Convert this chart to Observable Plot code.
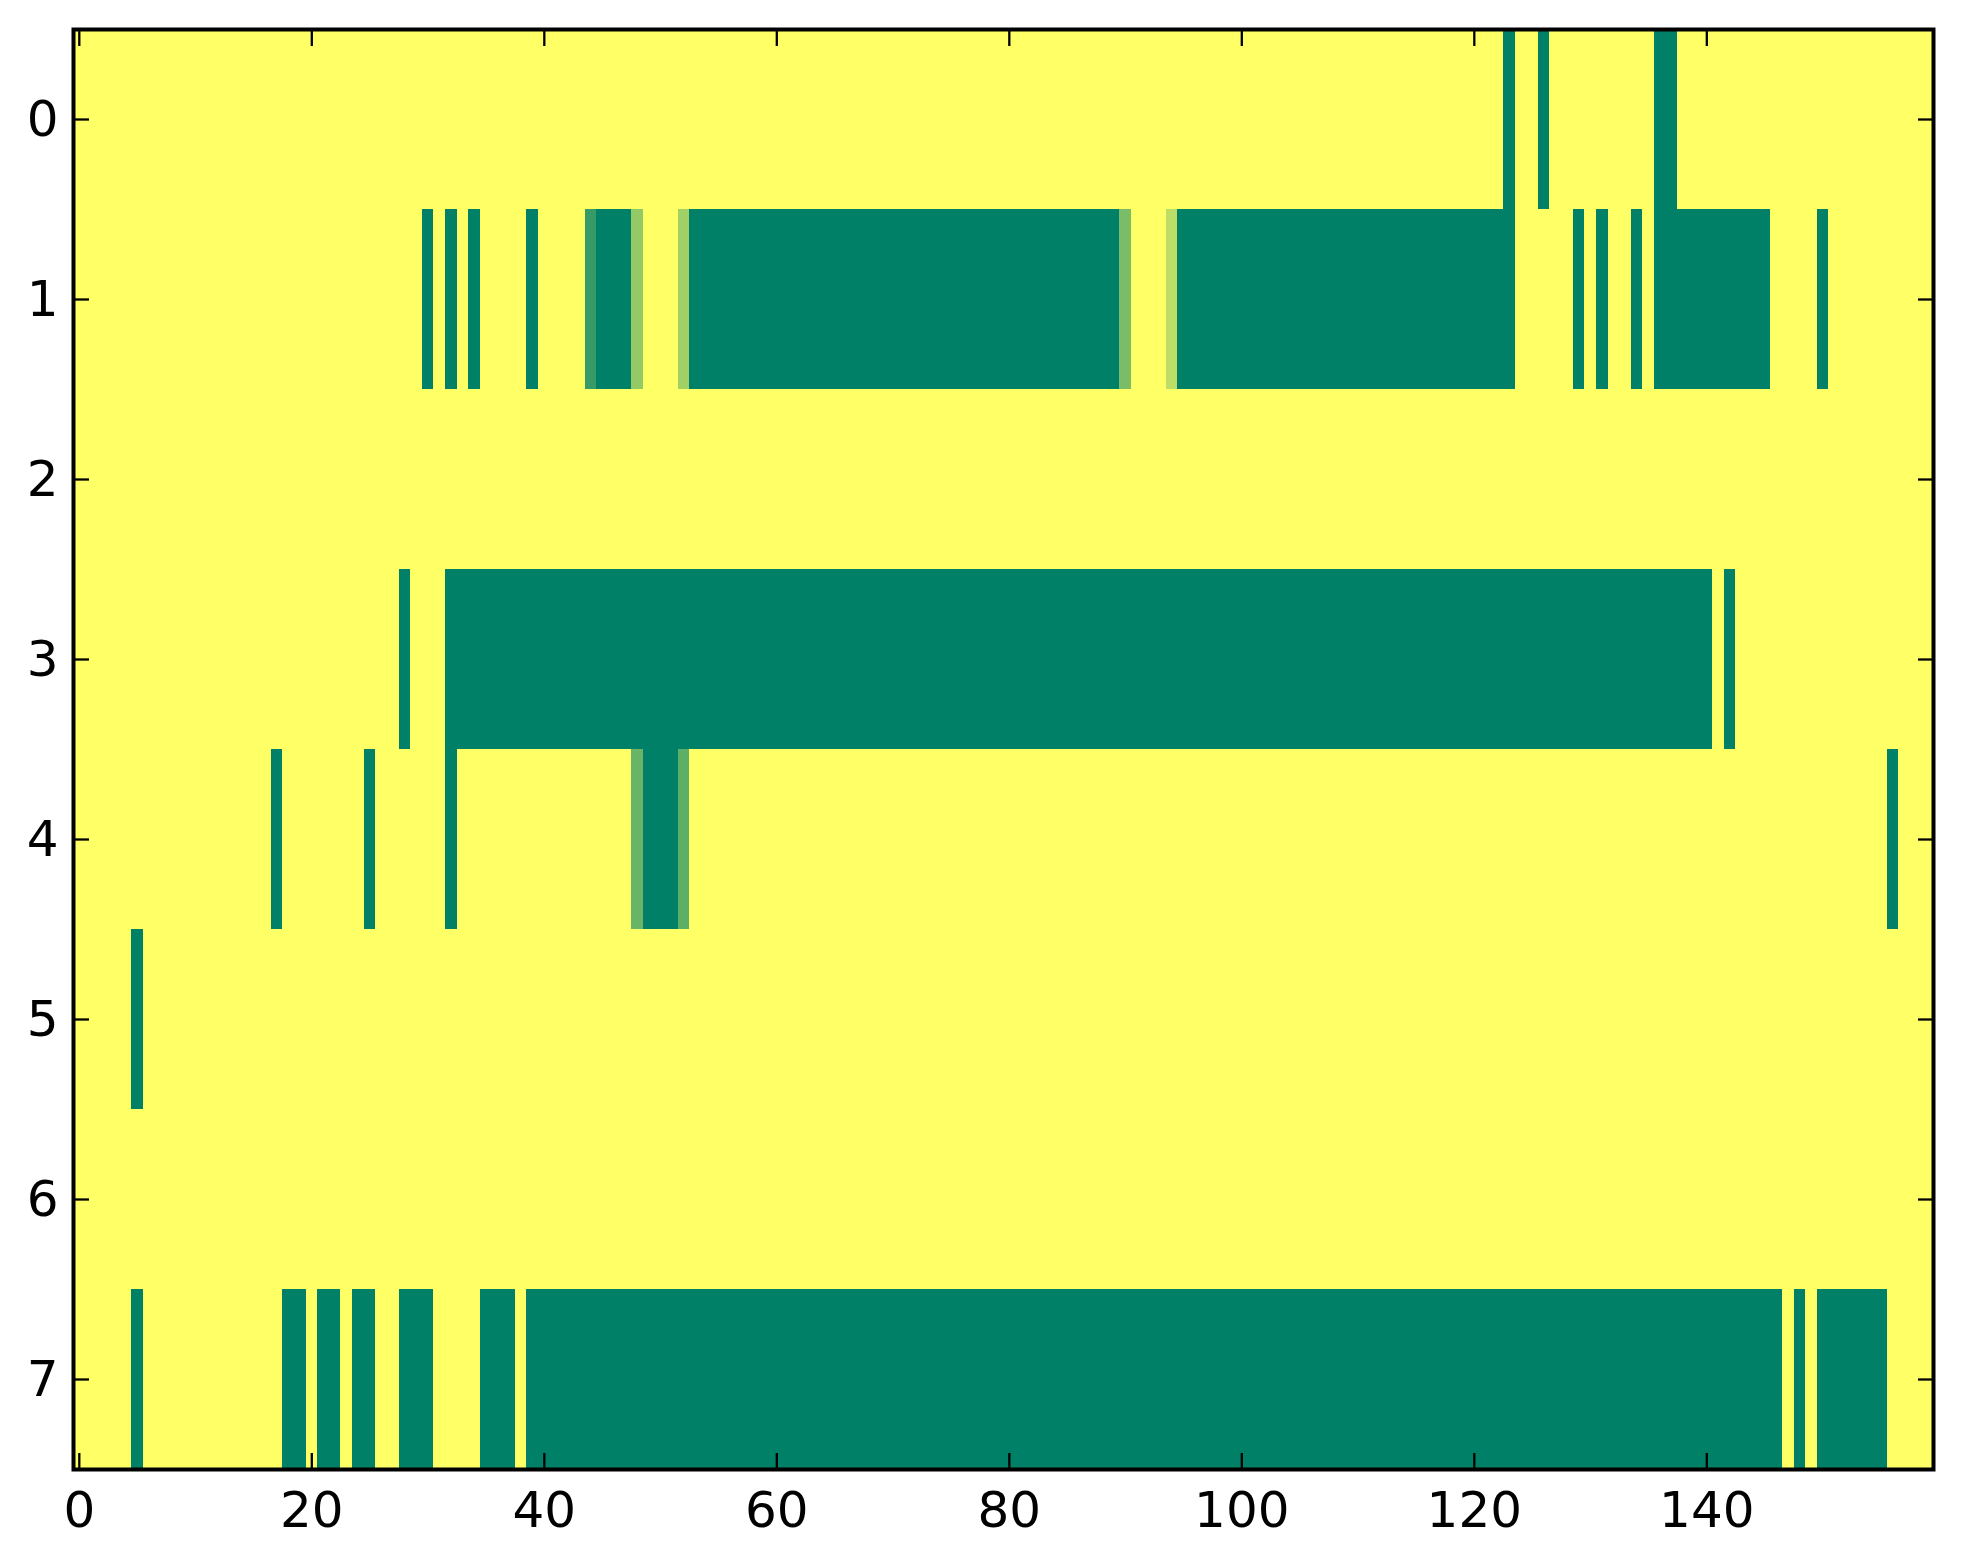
<!DOCTYPE html>
<html>
<head>
<meta charset="utf-8">
<script src="https://cdn.jsdelivr.net/npm/d3@7"></script>
<script src="https://cdn.jsdelivr.net/npm/@observablehq/plot@0.6"></script>
<style>
  html, body { margin: 0; padding: 0; background: white; }
</style>
</head>
<body>
<div id="chart"></div>
<script>
// Grid size (imshow-style raster)
const nCols = 160;
const rowIds = [0, 1, 2, 3, 4, 5, 6, 7];

// Runs of cells at value 0 (dark green): [row, firstCol, lastCol]
const greenRuns = [
  [0, 123, 123], [0, 126, 126], [0, 136, 137],
  [1, 30, 30], [1, 32, 32], [1, 34, 34], [1, 39, 39], [1, 45, 47], [1, 53, 89],
  [1, 95, 123], [1, 129, 129], [1, 131, 131], [1, 134, 134], [1, 136, 145], [1, 150, 150],
  [3, 28, 28], [3, 32, 140], [3, 142, 142],
  [4, 17, 17], [4, 25, 25], [4, 32, 32], [4, 49, 51], [4, 156, 156],
  [5, 5, 5],
  [7, 5, 5], [7, 18, 19], [7, 21, 22], [7, 24, 25], [7, 28, 30], [7, 35, 37],
  [7, 39, 146], [7, 148, 148], [7, 150, 155]
];

// Cells with intermediate values: [row, col, value]
const partialCells = [
  [1, 44, 0.21], [1, 48, 0.58], [1, 52, 0.63], [1, 90, 0.48], [1, 94, 0.74],
  [4, 48, 0.41], [4, 52, 0.37]
];

// Background value of all other cells (yellow)
const baseValue = 1;

// Tick labels
const xTicks = [0, 20, 40, 60, 80, 100, 120, 140];
const yTicks = [0, 1, 2, 3, 4, 5, 6, 7];

// Build the grid table
const colIds = d3.range(nCols);
const grid = new Map();
for (const r of rowIds) for (const c of colIds) grid.set(r + ":" + c, baseValue);
for (const [r, a, b] of greenRuns) for (let c = a; c <= b; c++) grid.set(r + ":" + c, 0);
for (const [r, c, v] of partialCells) grid.set(r + ":" + c, v);
const cells = [];
for (const r of rowIds) for (const c of colIds) cells.push({row: r, col: c, value: grid.get(r + ":" + c)});

const chart = Plot.plot({
  width: 1963,
  height: 1564,
  marginLeft: 73,
  marginRight: 30,
  marginTop: 29,
  marginBottom: 95,
  style: {fontFamily: "DejaVu Sans", fontSize: "50px", background: "white", color: "black"},
  x: {type: "band", domain: colIds, padding: 0, label: null},
  y: {type: "band", domain: rowIds, padding: 0, label: null},
  color: {type: "linear", domain: [0, 1], range: ["#008066", "#ffff66"], interpolate: "rgb"},
  marks: [
    Plot.cell(cells, {x: "col", y: "row", fill: "value", shapeRendering: "crispEdges"}),
    Plot.axisX(xTicks, {anchor: "bottom", tickSize: 0, tickPadding: 22, fontSize: 50, label: null}),
    Plot.axisX(xTicks, {anchor: "bottom", tickSize: -16, strokeWidth: 2.3, fill: "none", label: null}),
    Plot.axisX(xTicks, {anchor: "top", tickSize: -16, strokeWidth: 2.3, fill: "none", label: null}),
    Plot.axisY(yTicks, {anchor: "left", tickSize: 0, tickPadding: 15, fontSize: 50, label: null}),
    Plot.axisY(yTicks, {anchor: "left", tickSize: -16, strokeWidth: 2.3, fill: "none", label: null}),
    Plot.axisY(yTicks, {anchor: "right", tickSize: -16, strokeWidth: 2.3, fill: "none", label: null}),
    Plot.frame({stroke: "black", strokeWidth: 4})
  ]
});
document.getElementById("chart").appendChild(chart);
</script>
</body>
</html>
